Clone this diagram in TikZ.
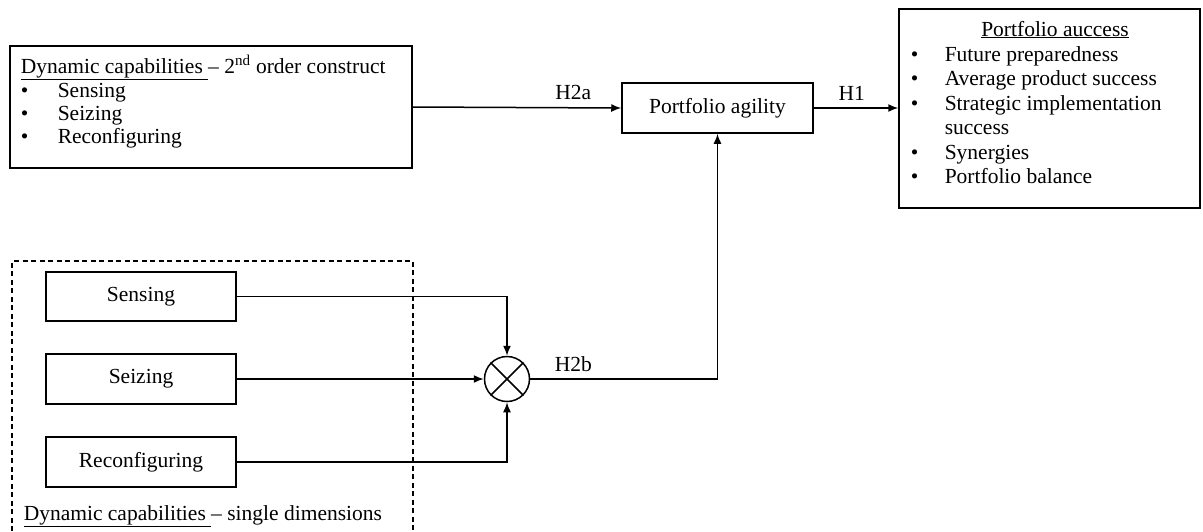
\documentclass[tikz,border=0pt]{standalone}
\usepackage{fontspec}
\setmainfont{Liberation Serif}
\usetikzlibrary{arrows.meta}
\begin{document}
\begin{tikzpicture}[x=1pt,y=-1pt, line width=1.5pt,
  box/.style={draw, line width=1.5pt, inner sep=0pt, font=\fontsize{21.5}{24}\selectfont},
  txt/.style={font=\fontsize{21.5}{24}\selectfont, inner sep=0pt, anchor=base west},
  lbl/.style={font=\fontsize{21.5}{24}\selectfont, inner sep=0pt},
  arr/.style={-{Latex[length=10pt,width=8pt]}}]
\useasboundingbox (0,0) rectangle (1203,531);
% boxes
\node[box, minimum width=402pt, minimum height=122pt] (dc) at (211,107) {};
\node[box, minimum width=191pt, minimum height=50pt] (pa) at (717.5,108) {Portfolio agility};
\node[box, minimum width=301pt, minimum height=199pt] (ps) at (1049.5,108.5) {};
\node[box, minimum width=190pt, minimum height=49pt] (sen) at (141,296.5) {Sensing};
\node[box, minimum width=190pt, minimum height=50pt] (sei) at (141,379) {Seizing};
\node[box, minimum width=190pt, minimum height=50pt] (rec) at (141,462) {Reconfiguring};
\node[draw, circle, line width=1.5pt, minimum size=45pt, inner sep=0pt] (cx) at (507,379) {};
\draw[line width=1.5pt] (cx.north west) -- (cx.south east) (cx.north east) -- (cx.south west);
% dashed frame
\draw[line width=1.5pt, dash pattern=on 5pt off 3.5pt] (12,531) -- (12,261) -- (413,261) -- (413,531);
% text of dc
\node[txt] (dct) at (20,73) {\underline{Dynamic capabilities\ }– 2\textsuperscript{nd} order construct};
\node[txt] (dcb1) at (20,97) {•}; \node[txt] (dcs1) at (57,97) {Sensing};
\node[txt] (dcb2) at (20,120) {•}; \node[txt] (dcs2) at (57,120) {Seizing};
\node[txt] (dcb3) at (20,143) {•}; \node[txt] (dcs3) at (57,143) {Reconfiguring};
% text of ps
\node[txt, anchor=base] (pst) at (1055,36) {\underline{Portfolio auccess}};
\node[txt] (psb1) at (910,61) {•}; \node[txt] (pss1) at (944,61) {Future preparedness};
\node[txt] (psb2) at (910,85) {•}; \node[txt] (pss2) at (944,85) {Average product success};
\node[txt] (psb3) at (910,110) {•}; \node[txt] (pss3) at (944,110) {Strategic implementation};
\node[txt] (pss3b) at (944,134) {success};
\node[txt] (psb4) at (910,159) {•}; \node[txt] (pss4) at (944,159) {Synergies};
\node[txt] (psb5) at (910,183) {•}; \node[txt] (pss5) at (944,183) {Portfolio balance};
% bottom label
\node[txt] (sd) at (23,520) {\underline{Dynamic capabilities\ }– single dimensions};
% connectors
\draw[arr] (dc.east) -- node[lbl, above=7pt, pos=0.77] (h2a) {H2a} (pa.west);
\draw[arr] (pa.east) -- node[lbl, above=7pt, pos=0.45] (h1) {H1} (pa.east -| ps.west);
\draw[arr] (sen.east) -| (cx.north);
\draw[arr] (sei.east) -- (cx.west);
\draw[arr] (rec.east) -| (cx.south);
\draw[arr] (cx.east) -| node[lbl, above=7pt, pos=0.115] (h2b) {H2b} (pa.south);
\end{tikzpicture}
\end{document}
